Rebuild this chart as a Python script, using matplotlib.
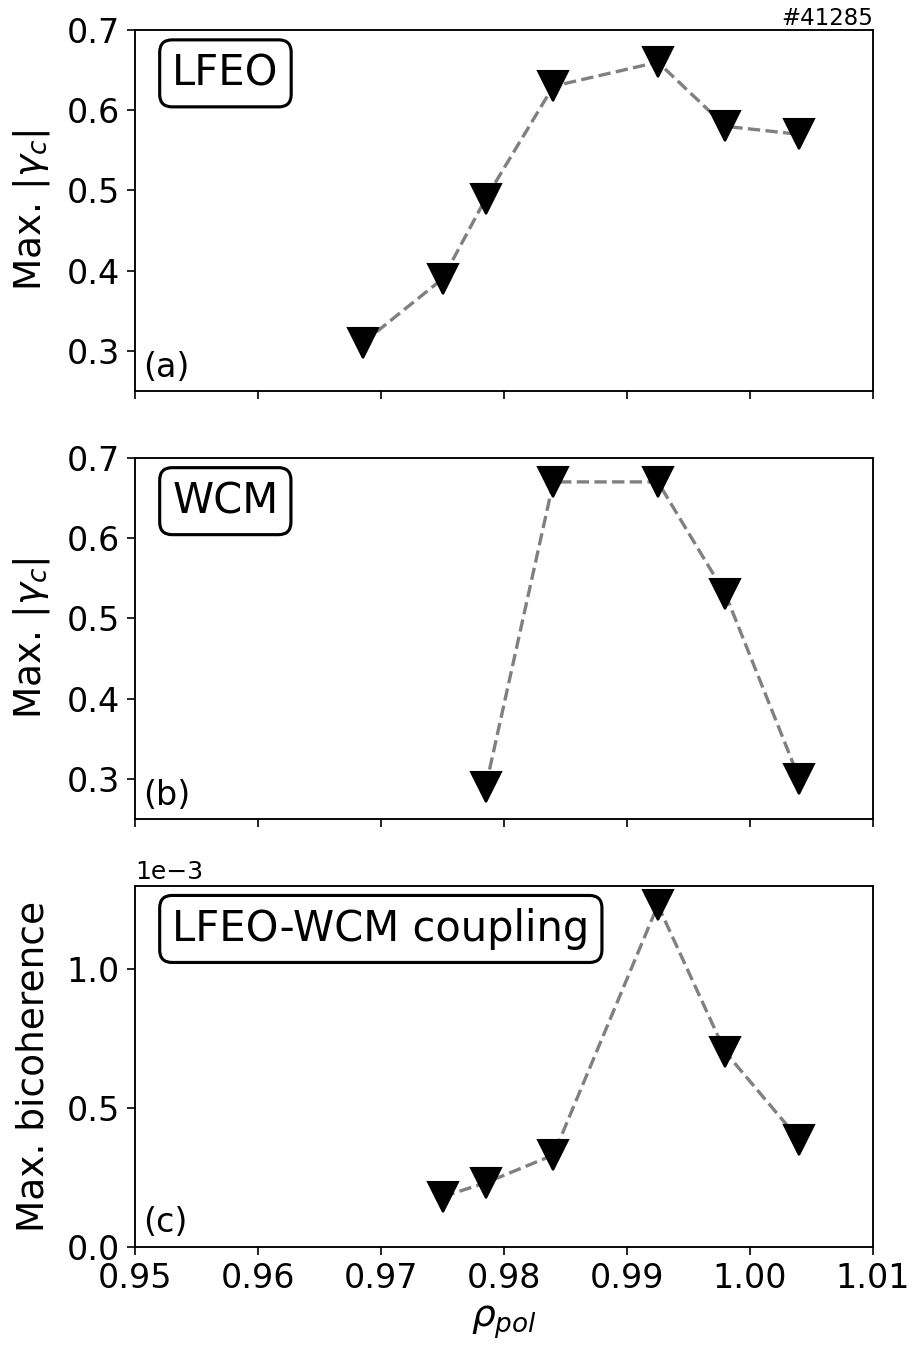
import numpy as np
import matplotlib
matplotlib.use("Agg")
import matplotlib.pyplot as plt

# Radial positions (normalised poloidal flux radius)
rho_pol = [0.9685, 0.9750, 0.9785, 0.9840, 0.9925, 0.9980, 1.0040]

# Maximum coherence of the LFEO and WCM, and maximum bicoherence of their coupling
lfeo_coh = [0.31, 0.39, 0.49, 0.63, 0.66, 0.58, 0.57]
wcm_coh = [np.nan, np.nan, 0.29, 0.67, 0.67, 0.53, 0.30]
bicoh = [np.nan, 0.18e-3, 0.23e-3, 0.33e-3, 1.23e-3, 0.70e-3, 0.385e-3]

box_labels = ["LFEO", "WCM", "LFEO-WCM coupling"]
panel_labels = ["(a)", "(b)", "(c)"]
ylabels = [r"Max. $|\gamma_c|$", r"Max. $|\gamma_c|$", "Max. bicoherence"]
xticks = [0.95, 0.96, 0.97, 0.98, 0.99, 1.00, 1.01]
shot = "#41285"

fig, axes = plt.subplots(3, 1, sharex=True, figsize=(913 / 150, 1347 / 150), dpi=150)
fig.subplots_adjust(left=0.1482, right=0.9562, bottom=0.0745, top=0.9777, hspace=0.185)

series = [lfeo_coh, wcm_coh, bicoh]
for ax, y, box, plab, ylab in zip(axes, series, box_labels, panel_labels, ylabels):
    ax.plot(rho_pol, y, "--", color="grey", lw=1.6, zorder=2)
    ax.plot(rho_pol, y, "v", color="black", ms=14, zorder=3)
    ax.text(0.05, 0.88, box, transform=ax.transAxes, ha="left", va="center",
            fontsize=20, bbox=dict(boxstyle="round", fc="white", ec="black", lw=1.5))
    ax.text(0.01, 0.02, plab, transform=ax.transAxes, ha="left", va="bottom", fontsize=16)
    ax.set_ylabel(ylab, fontsize=18, labelpad=7)
    ax.tick_params(labelsize=16, length=4)
    for sp in ax.spines.values():
        sp.set_linewidth(0.9)

axes[0].set_ylim(0.25, 0.7)
axes[0].set_yticks([0.3, 0.4, 0.5, 0.6, 0.7])
axes[1].set_ylim(0.25, 0.7)
axes[1].set_yticks([0.3, 0.4, 0.5, 0.6, 0.7])
axes[2].set_ylim(0, 1.3e-3)
axes[2].set_yticks([0, 0.5e-3, 1.0e-3])
axes[2].ticklabel_format(axis="y", style="sci", scilimits=(0, 0))
axes[2].yaxis.get_offset_text().set_fontsize(12)

axes[2].set_xlim(0.95, 1.01)
axes[2].set_xticks(xticks)
axes[2].set_xlabel(r"$\rho_{pol}$", fontsize=18)

axes[0].text(1.0, 1.0, shot, transform=axes[0].transAxes, ha="right", va="bottom", fontsize=11)

fig.savefig("out.png", dpi=150)
